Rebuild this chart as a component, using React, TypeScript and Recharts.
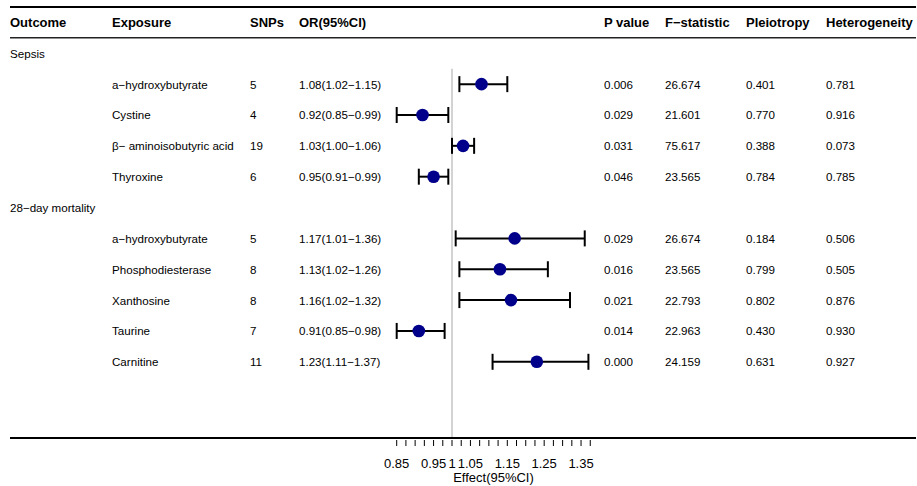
import React from "react";
import {
  ScatterChart,
  Scatter,
  XAxis,
  YAxis,
  ErrorBar,
  ReferenceLine,
} from "recharts";

// table columns
const headers = ["Outcome", "Exposure", "SNPs", "OR(95%CI)", "P value", "F\u2212statistic", "Pleiotropy", "Heterogeneity"];
const outcomes = ["Sepsis", "28\u2212day mortality"];
const outcomeCounts = [4, 5];

const exposures = [
  "a\u2212hydroxybutyrate",
  "Cystine",
  "\u03b2\u2212 aminoisobutyric acid",
  "Thyroxine",
  "a\u2212hydroxybutyrate",
  "Phosphodiesterase",
  "Xanthosine",
  "Taurine",
  "Carnitine",
];
const snps = [5, 4, 19, 6, 5, 8, 8, 7, 11];
const oddsRatio = [1.08, 0.92, 1.03, 0.95, 1.17, 1.13, 1.16, 0.91, 1.23];
const ciLower = [1.02, 0.85, 1.0, 0.91, 1.01, 1.02, 1.02, 0.85, 1.11];
const ciUpper = [1.15, 0.99, 1.06, 0.99, 1.36, 1.26, 1.32, 0.98, 1.37];
const pValues = ["0.006", "0.029", "0.031", "0.046", "0.029", "0.016", "0.021", "0.014", "0.000"];
const fStats = ["26.674", "21.601", "75.617", "23.565", "26.674", "23.565", "22.793", "22.963", "24.159"];
const pleiotropy = ["0.401", "0.770", "0.388", "0.784", "0.184", "0.799", "0.802", "0.430", "0.631"];
const heterogeneity = ["0.781", "0.916", "0.073", "0.785", "0.506", "0.505", "0.876", "0.930", "0.927"];

// axis
const axisTicks = [
  0.85, 0.875, 0.9, 0.925, 0.95, 0.975, 1, 1.025, 1.05, 1.075, 1.1, 1.125,
  1.15, 1.175, 1.2, 1.225, 1.25, 1.275, 1.3, 1.325, 1.35, 1.375,
];
const axisLabels = [0.85, 0.95, 1, 1.05, 1.15, 1.25, 1.35];
const axisTitle = "Effect(95%CI)";

// layout
const W = 917;
const H = 486;
const X_MIN = -0.19881;
const X_MAX = 2.25847;
const Y_MIN = -1.5;
const Y_MAX = 12.47;
const colX = [10, 112, 250, 299, 604, 665, 746, 826];
const FONT = "'Liberation Sans', Arial, Helvetica, sans-serif";

const fmt = (v: number) => v.toFixed(2);

interface Row {
  x: number;
  y: number;
  kind: "header" | "group" | "item";
  cells: string[];
}

const tableRows: Row[] = [{ x: X_MIN, y: -1, kind: "header", cells: headers }];
const points: { x: number; y: number; err: number[] }[] = [];
{
  let r = 0;
  let k = 0;
  outcomes.forEach((o, gi) => {
    tableRows.push({ x: X_MIN, y: r, kind: "group", cells: [o] });
    r++;
    for (let j = 0; j < outcomeCounts[gi]; j++, k++, r++) {
      tableRows.push({
        x: X_MIN,
        y: r,
        kind: "item",
        cells: [
          "",
          exposures[k],
          String(snps[k]),
          `${fmt(oddsRatio[k])}(${fmt(ciLower[k])}\u2212${fmt(ciUpper[k])})`,
          pValues[k],
          fStats[k],
          pleiotropy[k],
          heterogeneity[k],
        ],
      });
      points.push({
        x: oddsRatio[k],
        y: r,
        err: [oddsRatio[k] - ciLower[k], ciUpper[k] - oddsRatio[k]],
      });
    }
  });
}

const RowText = (props: any) => {
  const { cy, payload } = props;
  if (typeof cy !== "number" || !payload) return null;
  const bold = payload.kind === "header";
  return (
    <g>
      {payload.cells.map((c: string, i: number) =>
        c ? (
          <text
            key={i}
            x={colX[i]}
            y={cy}
            dominantBaseline="central"
            fontFamily={FONT}
            fontSize={bold ? 13 : 11.6}
            fontWeight={bold ? 700 : 400}
            fill="#000"
          >
            {c}
          </text>
        ) : null
      )}
    </g>
  );
};

const Dot = (props: any) => {
  const { cx, cy } = props;
  if (typeof cx !== "number" || typeof cy !== "number") return null;
  return <circle cx={cx} cy={cy} r={6.3} fill="#00008B" />;
};

const AxisTick = (props: any) => {
  const { x, y, payload } = props;
  const v = payload.value;
  return (
    <g>
      <line x1={x} x2={x} y1={y + 2} y2={y + 8} stroke="#000" strokeWidth={1} />
      {axisLabels.includes(v) && (
        <text x={x} y={y + 25} textAnchor="middle" dominantBaseline="central" fontFamily={FONT} fontSize={13} fill="#000">
          {String(v)}
        </text>
      )}
    </g>
  );
};

const AxisTitle = (props: any) => {
  const vb = props.viewBox;
  if (!vb) return null;
  const mid = (axisTicks[0] + axisTicks[axisTicks.length - 1]) / 2;
  const x = vb.x + ((mid - X_MIN) / (X_MAX - X_MIN)) * vb.width;
  return (
    <text x={x} y={vb.y + 39} textAnchor="middle" dominantBaseline="central" fontFamily={FONT} fontSize={13} fill="#000">
      {axisTitle}
    </text>
  );
};

export default function App() {
  return (
    <div style={{ position: "absolute", left: 0, top: 0, width: W, height: H, background: "#fff" }}>
      <ScatterChart width={W} height={H} margin={{ top: 7, right: 1, bottom: 0, left: 10 }}>
        <XAxis
          type="number"
          dataKey="x"
          domain={[X_MIN, X_MAX]}
          allowDataOverflow
          ticks={axisTicks}
          interval={0}
          tick={<AxisTick />}
          tickLine={false}
          tickSize={0}
          tickMargin={0}
          axisLine={{ stroke: "#000", strokeWidth: 2 }}
          height={48}
          label={{ content: <AxisTitle /> }}
        />
        <YAxis type="number" dataKey="y" domain={[Y_MIN, Y_MAX]} allowDataOverflow reversed hide />
        <ReferenceLine y={-1.5} stroke="#000" strokeWidth={2} />
        <ReferenceLine y={-0.5} stroke="#222" strokeWidth={1.5} />
        <ReferenceLine
          segment={[
            { x: 1, y: 0.5 },
            { x: 1, y: Y_MAX },
          ]}
          stroke="#c4c4c4"
          strokeWidth={1.5}
        />
        <Scatter data={tableRows} shape={<RowText />} isAnimationActive={false} />
        <Scatter data={points} shape={<Dot />} isAnimationActive={false}>
          <ErrorBar dataKey="err" direction="x" width={8} stroke="#000" strokeWidth={2} />
        </Scatter>
      </ScatterChart>
    </div>
  );
}
